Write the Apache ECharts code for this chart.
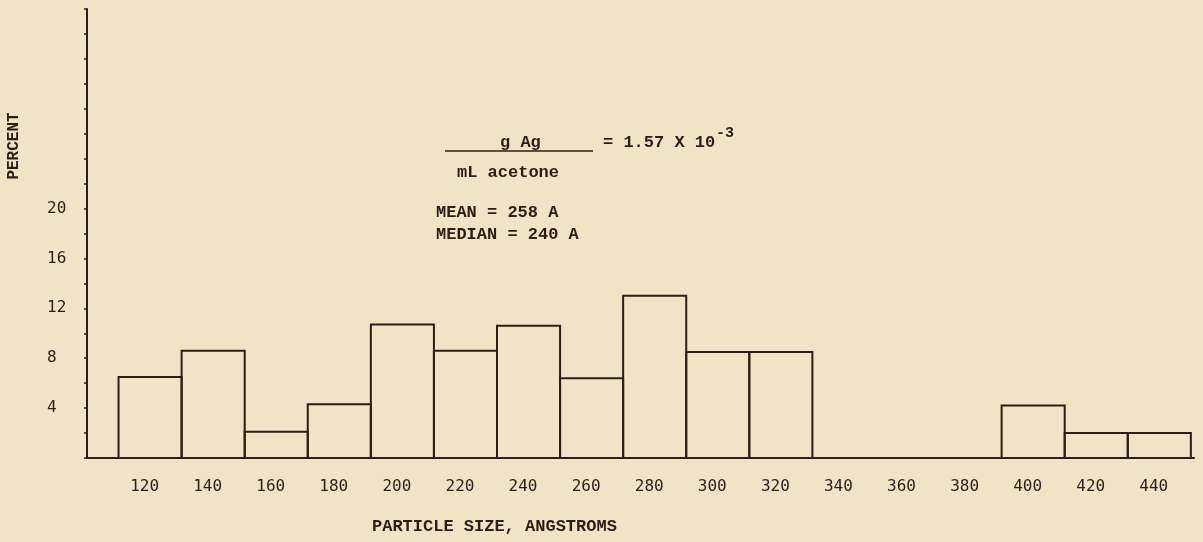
<!DOCTYPE html>
<html>
<head>
<meta charset="utf-8">
<title>Particle size distribution</title>
<script src="https://cdn.jsdelivr.net/npm/echarts@6/dist/echarts.min.js"></script>
<style>
  html, body { margin: 0; padding: 0; background: #f1e4c6; }
  #chart { width: 1203px; height: 542px; }
</style>
</head>
<body>
<div id="chart"></div>
<script>
// Histogram bins: centre of each 20 A wide particle-size class
const binCenters = [120, 140, 160, 180, 200, 220, 240, 260, 280, 300, 320, 340, 360, 380, 400, 420, 440];
// Percent of particles in each class
const percentValues = [6.5, 8.6, 2.1, 4.3, 10.7, 8.6, 10.6, 6.4, 13.0, 8.5, 8.5, 0, 0, 0, 4.2, 2.0, 2.0];
const binWidth = 20;
// Tick labels shown on each axis
const xTickLabels = [120, 140, 160, 180, 200, 220, 240, 260, 280, 300, 320, 340, 360, 380, 400, 420, 440];
const yTickLabels = [4, 8, 12, 16, 20];

const ink = '#2e1c15';
const typeFont = '"Liberation Mono", "DejaVu Sans Mono", monospace';
const tickFont = '"DejaVu Sans Mono", "Liberation Mono", monospace';
const noteFont = 'bold 17px ' + typeFont;

const chart = echarts.init(document.getElementById('chart'), null, { renderer: 'canvas' });

const bins = binCenters.map((c, i) => [c, percentValues[i]]);

chart.setOption({
  backgroundColor: '#f1e4c6',
  animation: false,
  grid: { left: 87, right: 9, top: 9, bottom: 84, containLabel: false },
  xAxis: {
    type: 'value',
    min: 100,
    max: 451,
    interval: 20,
    axisLine: { show: true, onZero: false, lineStyle: { color: ink, width: 2 } },
    axisTick: { show: false },
    splitLine: { show: false },
    axisLabel: {
      color: ink,
      fontFamily: tickFont,
      fontSize: 16,
      margin: 21,
      padding: [0, 11, 0, 0],
      showMaxLabel: false,
      formatter: v => (xTickLabels.indexOf(v) >= 0 ? String(v) : '')
    }
  },
  yAxis: {
    type: 'value',
    min: 0,
    max: 36,
    interval: 2,
    axisLine: { show: true, lineStyle: { color: ink, width: 2 } },
    axisTick: { show: true, length: 3, lineStyle: { color: ink, width: 1.5 } },
    splitLine: { show: false },
    axisLabel: {
      color: ink,
      fontFamily: tickFont,
      fontSize: 16,
      margin: 40,
      align: 'left',
      padding: [0, 0, 6, 0],
      formatter: v => (yTickLabels.indexOf(v) >= 0 ? String(v) : '')
    }
  },
  series: [{
    type: 'custom',
    data: bins,
    encode: { x: 0, y: 1 },
    renderItem: (params, api) => {
      const c = api.value(0);
      const v = api.value(1);
      const topLeft = api.coord([c - binWidth / 2, v]);
      const bottomRight = api.coord([c + binWidth / 2, 0]);
      return {
        type: 'rect',
        shape: {
          x: topLeft[0],
          y: topLeft[1],
          width: bottomRight[0] - topLeft[0],
          height: bottomRight[1] - topLeft[1]
        },
        style: { fill: 'none', stroke: ink, lineWidth: 2 }
      };
    }
  }],
  graphic: [
    {
      type: 'text', x: 14, y: 146, rotation: Math.PI / 2,
      style: { text: 'PERCENT', fill: ink, font: 'bold 16px ' + typeFont, textAlign: 'center', textVerticalAlign: 'middle' }
    },
    {
      type: 'line', shape: { x1: 445, y1: 151, x2: 593, y2: 151 },
      style: { stroke: ink, lineWidth: 1.5 }
    },
    {
      type: 'text', x: 500, y: 143,
      style: { text: 'g Ag', fill: ink, font: noteFont, textVerticalAlign: 'middle' }
    },
    {
      type: 'text', x: 603, y: 143,
      style: { text: '= 1.57 X 10', fill: ink, font: noteFont, textVerticalAlign: 'middle' }
    },
    {
      type: 'text', x: 716, y: 133,
      style: { text: '-3', fill: ink, font: 'bold 15px ' + typeFont, textVerticalAlign: 'middle' }
    },
    {
      type: 'text', x: 457, y: 173,
      style: { text: 'mL acetone', fill: ink, font: noteFont, textVerticalAlign: 'middle' }
    },
    {
      type: 'text', x: 436, y: 213,
      style: { text: 'MEAN = 258 A', fill: ink, font: noteFont, textVerticalAlign: 'middle' }
    },
    {
      type: 'text', x: 436, y: 235,
      style: { text: 'MEDIAN = 240 A', fill: ink, font: noteFont, textVerticalAlign: 'middle' }
    },
    {
      type: 'text', x: 372, y: 527,
      style: { text: 'PARTICLE SIZE, ANGSTROMS', fill: ink, font: noteFont, textVerticalAlign: 'middle' }
    }
  ]
});
</script>
</body>
</html>
